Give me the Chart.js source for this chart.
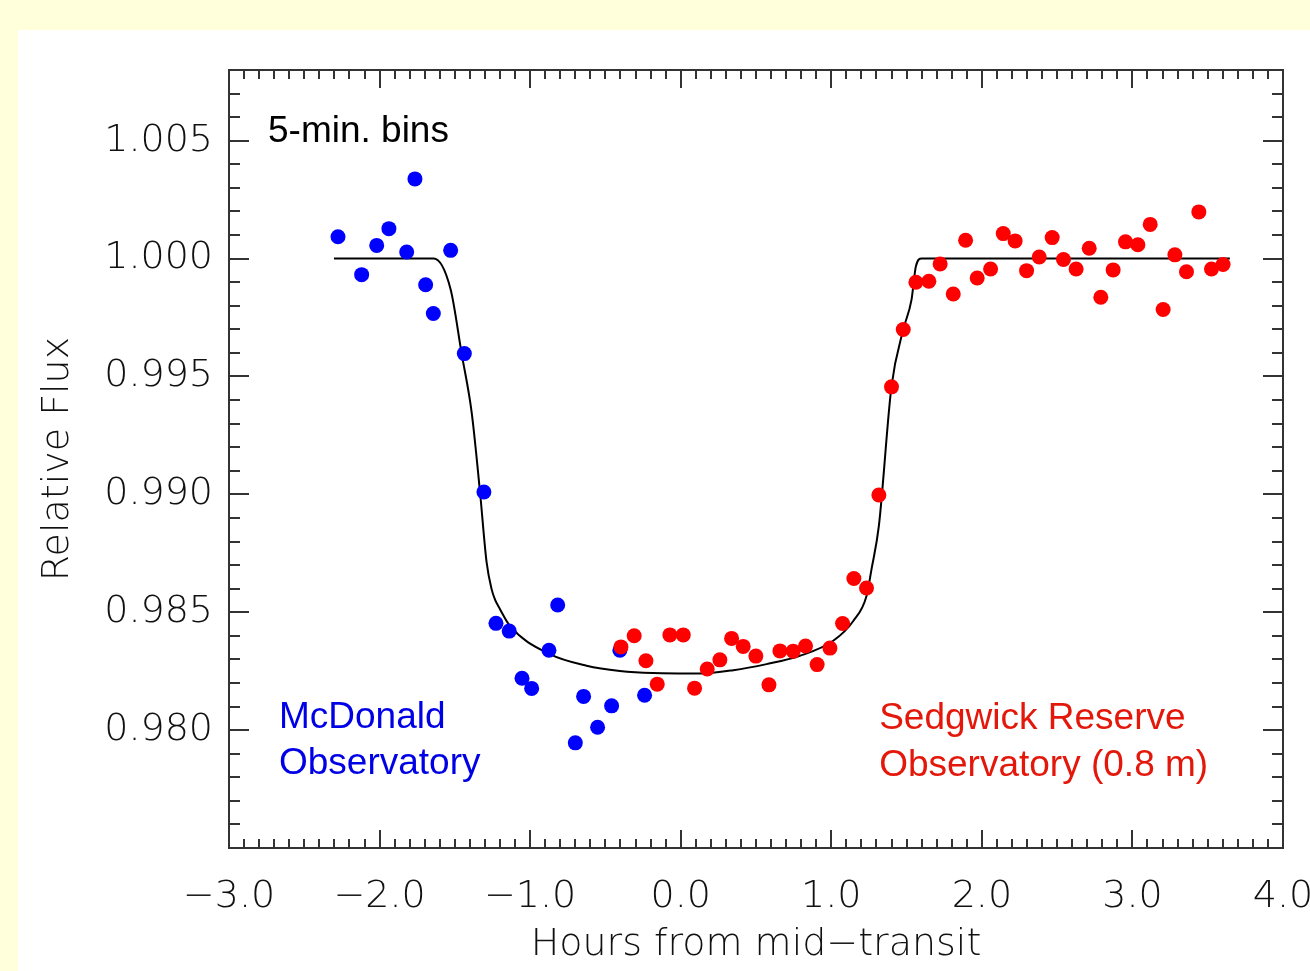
<!DOCTYPE html>
<html>
<head>
<meta charset="utf-8">
<script src="https://cdn.jsdelivr.net/npm/chart.js@4.4.1/dist/chart.umd.min.js"></script>
<style>
html,body{margin:0;padding:0;background:#ffffdc;}
#wrap{width:1310px;height:971px;position:relative;}
</style>
</head>
<body>
<div id="wrap"><canvas id="lc"></canvas></div>
<script>
// McDonald Observatory, 5-min bins
const blueX = [-2.276,-2.119,-2.019,-1.938,-1.820,-1.765,-1.694,-1.643,-1.528,-1.437,-1.307,-1.227,-1.139,-1.054,-0.990,-0.875,-0.817,-0.700,-0.645,-0.552,-0.459,-0.404,-0.240];
const blueY = [1.00093,0.99932,1.00056,1.00127,1.00028,1.00338,0.99889,0.99767,1.00035,0.99597,0.99010,0.98453,0.98420,0.98220,0.98177,0.98339,0.98531,0.97946,0.98143,0.98012,0.98103,0.98339,0.98148];

// Sedgwick Reserve Observatory
const redX = [-0.397,-0.309,-0.231,-0.156,-0.072,0.017,0.092,0.176,0.260,0.338,0.415,0.499,0.586,0.659,0.747,0.829,0.906,0.991,1.075,1.150,1.234,1.316,1.400,1.478,1.562,1.648,1.723,1.810,1.892,1.969,2.058,2.142,2.221,2.297,2.381,2.467,2.542,2.626,2.713,2.790,2.872,2.954,3.036,3.118,3.204,3.282,3.359,3.441,3.525,3.602];
const redY = [0.98353,0.98400,0.98294,0.98195,0.98404,0.98404,0.98178,0.98259,0.98298,0.98389,0.98355,0.98314,0.98192,0.98336,0.98335,0.98357,0.98278,0.98348,0.98452,0.98643,0.98603,0.98997,0.99456,0.99699,0.99900,0.99904,0.99977,0.99850,1.00078,0.99918,0.99956,1.00106,1.00075,0.99949,1.00007,1.00089,0.99996,0.99956,1.00044,0.99836,0.99952,1.00071,1.00059,1.00145,0.99784,1.00016,0.99944,1.00198,0.99956,0.99975];

// transit model curve
const modelX = [-2.303,-1.640,-1.528,-1.455,-1.388,-1.333,-1.289,-1.256,-1.234,-1.200,-1.134,-0.869,-0.625,-0.404,-0.185,0.127,0.349,0.570,0.791,1.013,1.146,1.234,1.267,1.316,1.400,1.478,1.533,1.562,1.600,3.647];
const modelY = [1.0000,1.0000,0.99869,0.99597,0.99346,0.99010,0.98711,0.98598,0.98555,0.98513,0.98442,0.98322,0.98273,0.98251,0.98242,0.98240,0.98254,0.98280,0.98315,0.98379,0.98463,0.98569,0.98682,0.98866,0.99459,0.99699,0.99826,0.99968,1.0000,1.0000];

const xTicks = [-3,-2,-1,0,1,2,3,4];
const yTicks = [0.980,0.985,0.990,0.995,1.000,1.005];

const pts = (xs, ys) => xs.map((x,i) => ({x:x, y:ys[i]}));

const tickFont = {family:"'DejaVu Sans'", size:38, weight:200};

// yellow frame + white panel
const panel = {
id:'panel',
beforeDraw(chart){
const c = chart.ctx;
c.save();
c.fillStyle = '#ffffdc';
c.fillRect(0,0,chart.width,chart.height);
c.fillStyle = '#ffffff';
c.fillRect(18,30,chart.width-18,chart.height-30);
c.restore();
}
};

// IDL style box with inward ticks, plus the text labels
const boxTicks = {
id:'boxTicks',
afterDraw(chart){
const c = chart.ctx;
const a = chart.chartArea;
const xs = chart.scales.x, ys = chart.scales.y;
c.save();
c.strokeStyle = '#333';
c.lineWidth = 2;
c.strokeRect(a.left,a.top,a.right-a.left,a.bottom-a.top);
c.beginPath();
for(let i=0;i<=70;i++){
const v = -3 + i*0.1;
const px = Math.round(xs.getPixelForValue(v));
const len = (i%10===0) ? 18 : 9;
c.moveTo(px,a.bottom); c.lineTo(px,a.bottom-len);
c.moveTo(px,a.top); c.lineTo(px,a.top+len);
}
for(let i=0;i<=33;i++){
const v = 0.975 + i*0.001;
const py = Math.round(ys.getPixelForValue(v));
const len = (i%5===0) ? 20 : 11;
c.moveTo(a.left,py); c.lineTo(a.left+len,py);
c.moveTo(a.right,py); c.lineTo(a.right-len,py);
}
c.stroke();

c.font = "37px 'Liberation Sans', Arial, sans-serif";
c.textBaseline = 'alphabetic';
c.textAlign = 'left';
c.fillStyle = '#000';
c.fillText('5-min. bins', xs.getPixelForValue(-2.741), ys.getPixelForValue(1.00496));
c.fillStyle = '#0000e6';
c.fillText('McDonald', xs.getPixelForValue(-2.668), ys.getPixelForValue(0.98010));
c.fillText('Observatory', xs.getPixelForValue(-2.668), ys.getPixelForValue(0.97812));
c.fillStyle = '#e3170a';
c.fillText('Sedgwick Reserve', xs.getPixelForValue(1.318), ys.getPixelForValue(0.98005));
c.fillText('Observatory (0.8 m)', xs.getPixelForValue(1.318), ys.getPixelForValue(0.97807));
c.restore();
}
};

new Chart(document.getElementById('lc'),{
type:'scatter',
data:{
datasets:[
{
label:'Model',
type:'line',
data:pts(modelX,modelY),
borderColor:'#000',
borderWidth:2,
pointRadius:0,
cubicInterpolationMode:'monotone',
fill:false,
order:3
},
{
label:'McDonald Observatory',
data:pts(blueX,blueY),
backgroundColor:'#0000ff',
borderWidth:0,
pointRadius:7.5,
order:2
},
{
label:'Sedgwick Reserve Observatory (0.8 m)',
data:pts(redX,redY),
backgroundColor:'#ff0000',
borderWidth:0,
pointRadius:7.5,
order:1
}
]
},
options:{
responsive:true,
maintainAspectRatio:false,
animation:false,
layout:{ padding:{ left:0, right:27, top:70, bottom:0 } },
plugins:{
legend:{ display:false },
tooltip:{ enabled:false }
},
scales:{
x:{
type:'linear',
min:-3, max:4,
grid:{ display:false, drawTicks:false },
border:{ display:false },
afterBuildTicks(s){ s.ticks = xTicks.map(v => ({value:v})); },
afterFit(s){ s.height = 123; s.paddingLeft = 0; s.paddingRight = 0; },
ticks:{
color:'#111',
font:tickFont,
padding:26,
maxRotation:0,
autoSkip:false,
callback:v => (v<0 ? '\u2212' : '') + Math.abs(v).toFixed(1)
},
title:{
display:true,
text:'Hours from mid\u2212transit',
color:'#111',
font:tickFont,
padding:{ top:0, bottom:3 }
}
},
y:{
type:'linear',
min:0.975, max:1.008,
grid:{ display:false, drawTicks:false },
border:{ display:false },
afterBuildTicks(s){ s.ticks = yTicks.map(v => ({value:v})); },
afterFit(s){ s.width = 229; s.paddingTop = 0; s.paddingBottom = 0; },
ticks:{
color:'#111',
font:tickFont,
padding:16,
autoSkip:false,
callback:v => v.toFixed(3)
},
title:{
display:true,
text:'Relative Flux',
color:'#111',
font:tickFont,
padding:{ top:35, bottom:0 }
}
}
}
},
plugins:[panel, boxTicks]
});
</script>
</body>
</html>
